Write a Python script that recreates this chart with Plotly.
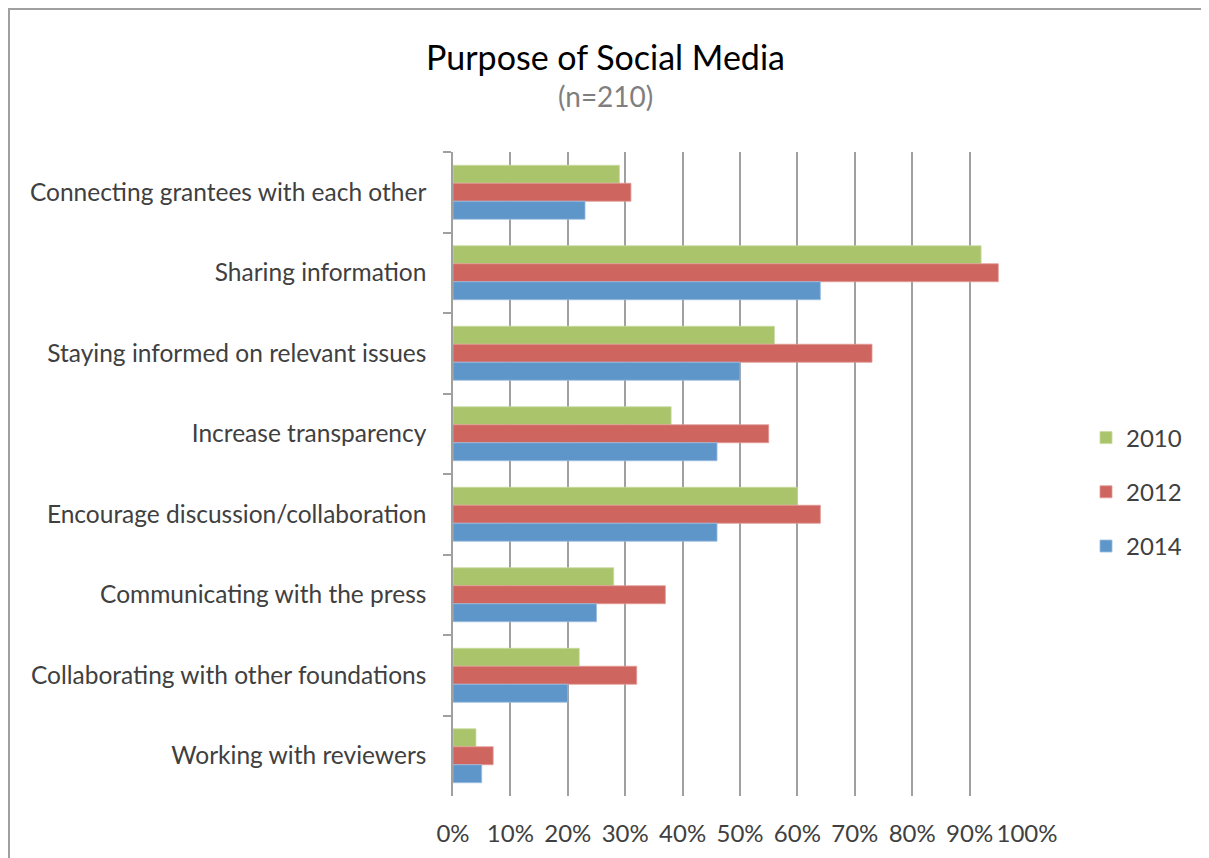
import plotly.graph_objects as go

categories = [
    "Connecting grantees with each other",
    "Sharing information",
    "Staying informed on relevant issues",
    "Increase transparency",
    "Encourage discussion/collaboration",
    "Communicating with the press",
    "Collaborating with other foundations",
    "Working with reviewers",
]
years = ["2010", "2012", "2014"]
v2010 = [29, 92, 56, 38, 60, 28, 22, 4]
v2012 = [31, 95, 73, 55, 64, 37, 32, 7]
v2014 = [23, 64, 50, 46, 46, 25, 20, 5]
x_ticks = [0, 10, 20, 30, 40, 50, 60, 70, 80, 90, 100]
x_tick_labels = [f"{t}%" for t in x_ticks]

colors = ["#AAC46C", "#CE665F", "#5F96C9"]
edges = ["#C9DBA0", "#E29B96", "#9BBDE0"]

# page body has an 8px offset; figure sized to fill the window
OFF = 8
W, H = 1209 - OFF, 858 - OFF
# plot area in screen pixels
SL, SR, ST, SB = 453, 1027, 152, 796


def px(x):
    return (x - SL) / (SR - SL)


def py(y):
    return (SB - y) / (SB - ST)


fig = go.Figure()
for name, vals, c, e in zip(years, [v2010, v2012, v2014], colors, edges):
    fig.add_trace(go.Bar(
        y=categories, x=vals, name=name, orientation="h",
        marker=dict(color=c, line=dict(color=e, width=0.8)),
        legendgroup=name,
    ))

grid = "#A0A0A0"
font_fam = "Lato, 'Open Sans', sans-serif"
fig.update_layout(
    width=W, height=H,
    margin=dict(l=SL - OFF, r=W - (SR - OFF), t=ST - OFF, b=H - (SB - OFF), pad=0),
    paper_bgcolor="white", plot_bgcolor="white",
    barmode="group", bargap=0.33, bargroupgap=0,
    font=dict(family=font_fam, size=24, color="#404040"),
    showlegend=True,
    legend=dict(x=px(1086), xanchor="left",
                y=py(492), yanchor="middle",
                font=dict(size=24, color="#404040"),
                traceorder="grouped", tracegroupgap=20,
                itemwidth=30, bgcolor="rgba(0,0,0,0)"),
    xaxis=dict(range=[0, 100], tickvals=x_ticks, ticktext=x_tick_labels,
               showgrid=True, gridcolor=grid, gridwidth=1.5,
               showline=False, zeroline=False, ticks="",
               ticklabelstandoff=21, tickfont=dict(size=24, color="#404040")),
    xaxis2=dict(range=[0, 100], tickvals=x_ticks, overlaying="x", side="top",
                anchor="y", showline=True, linecolor=grid, linewidth=1.5,
                ticks="outside", ticklen=8, tickwidth=1.5, tickcolor=grid,
                showticklabels=False, showgrid=False, zeroline=False),
    yaxis=dict(autorange="reversed", showline=True, linecolor=grid, linewidth=1.5,
               ticks="outside", ticklen=8, tickwidth=1.5, tickcolor=grid,
               tickson="boundaries", showgrid=False, zeroline=False,
               ticklabelstandoff=20, tickfont=dict(size=24.5, color="#404040")),
    annotations=[
        dict(text="Purpose of Social Media", x=px(605), y=py(57),
             xref="paper", yref="paper", showarrow=False,
             font=dict(size=34, color="#000000", family=font_fam),
             xanchor="center", yanchor="middle"),
        dict(text="(n=210)", x=px(605), y=py(96),
             xref="paper", yref="paper", showarrow=False,
             font=dict(size=28, color="#7F7F7F", family=font_fam),
             xanchor="center", yanchor="middle"),
    ],
    shapes=[
        dict(type="line", xref="paper", yref="paper",
             x0=px(8), x1=px(1215), y0=py(9), y1=py(9),
             line=dict(color=grid, width=2)),
        dict(type="line", xref="paper", yref="paper",
             x0=px(9), x1=px(9), y0=py(9), y1=py(870),
             line=dict(color=grid, width=2)),
    ],
)

fig.write_html("out.html")
